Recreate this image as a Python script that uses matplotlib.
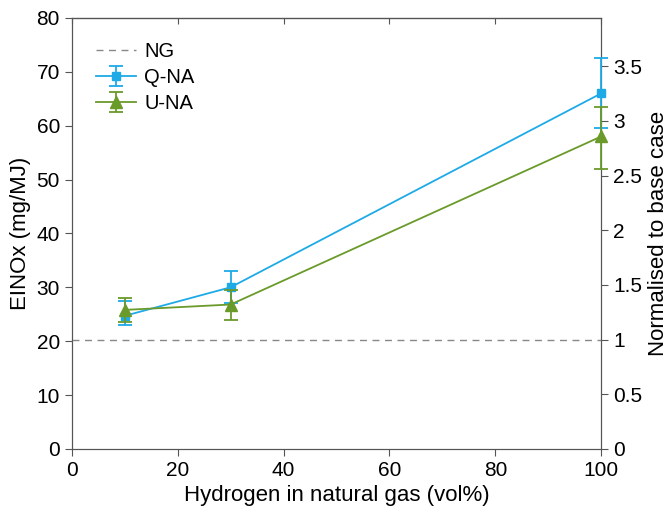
import matplotlib.pyplot as plt

plt.rcParams['font.family'] = ['Liberation Sans', 'DejaVu Sans']

h2 = [10, 30, 100]
q_na = [24.7, 30.0, 66.0]
q_lo = [23.0, 27.0, 59.5]
q_hi = [27.5, 33.0, 72.5]
u_na = [25.8, 26.8, 58.0]
u_lo = [23.5, 24.0, 52.0]
u_hi = [28.0, 29.5, 63.5]
ng = 20.3

blue = '#1eaae7'
green = '#6a9a2a'

fig = plt.figure(figsize=(6.71, 5.13), dpi=100)
ax = fig.add_axes([0.107, 0.125, 0.789, 0.84])

ax.axhline(ng, color='#888888', ls=(0, (5, 4)), lw=1.0, label='NG')
eq = ax.errorbar(h2, q_na, yerr=[[m - l for m, l in zip(q_na, q_lo)], [h - m for m, h in zip(q_na, q_hi)]],
                 color=blue, marker='s', ms=6, lw=1.3, capsize=5, capthick=1.3, label='Q-NA')
eu = ax.errorbar(h2, u_na, yerr=[[m - l for m, l in zip(u_na, u_lo)], [h - m for m, h in zip(u_na, u_hi)]],
                 color=green, marker='^', ms=8, lw=1.3, capsize=5, capthick=1.3, label='U-NA')
for cont in (eq, eu):
    for art in cont.get_children():
        art.set_clip_on(False)
        art.set_zorder(5)

ax.set_xlim(0, 100)
ax.set_ylim(0, 80)
ax.set_xticks(range(0, 101, 20))
ax.set_yticks(range(0, 81, 10))
ax.tick_params(labelsize=15, direction='out', length=5, color='#555555')
for s in ax.spines.values():
    s.set_color('#555555')
ax.set_xlabel('Hydrogen in natural gas (vol%)', fontsize=16)
ax.set_ylabel('EINOx (mg/MJ)', fontsize=16)
ax.legend(loc='upper left', frameon=False, fontsize=14.5, handlelength=2.0,
          borderaxespad=0.8, labelspacing=0.35, handletextpad=0.4)

top = ax.secondary_xaxis('top')
top.set_xticks(range(0, 101, 20))
top.tick_params(direction='in', length=4, labeltop=False, color='#555555')

ax2 = ax.twinx()
ax2.set_ylim(0, 80 / ng)
ax2.set_yticks([0, 0.5, 1, 1.5, 2, 2.5, 3, 3.5])
ax2.set_yticklabels(['0', '0.5', '1', '1.5', '2', '2.5', '3', '3.5'])
ax2.tick_params(labelsize=15, direction='out', length=5, color='#555555')
for s in ax2.spines.values():
    s.set_color('#555555')
ax2.set_ylabel('Normalised to base case', fontsize=16, labelpad=4)
ax.set_zorder(ax2.get_zorder() + 1)
ax.patch.set_visible(False)

fig.savefig('out.png', dpi=100)
